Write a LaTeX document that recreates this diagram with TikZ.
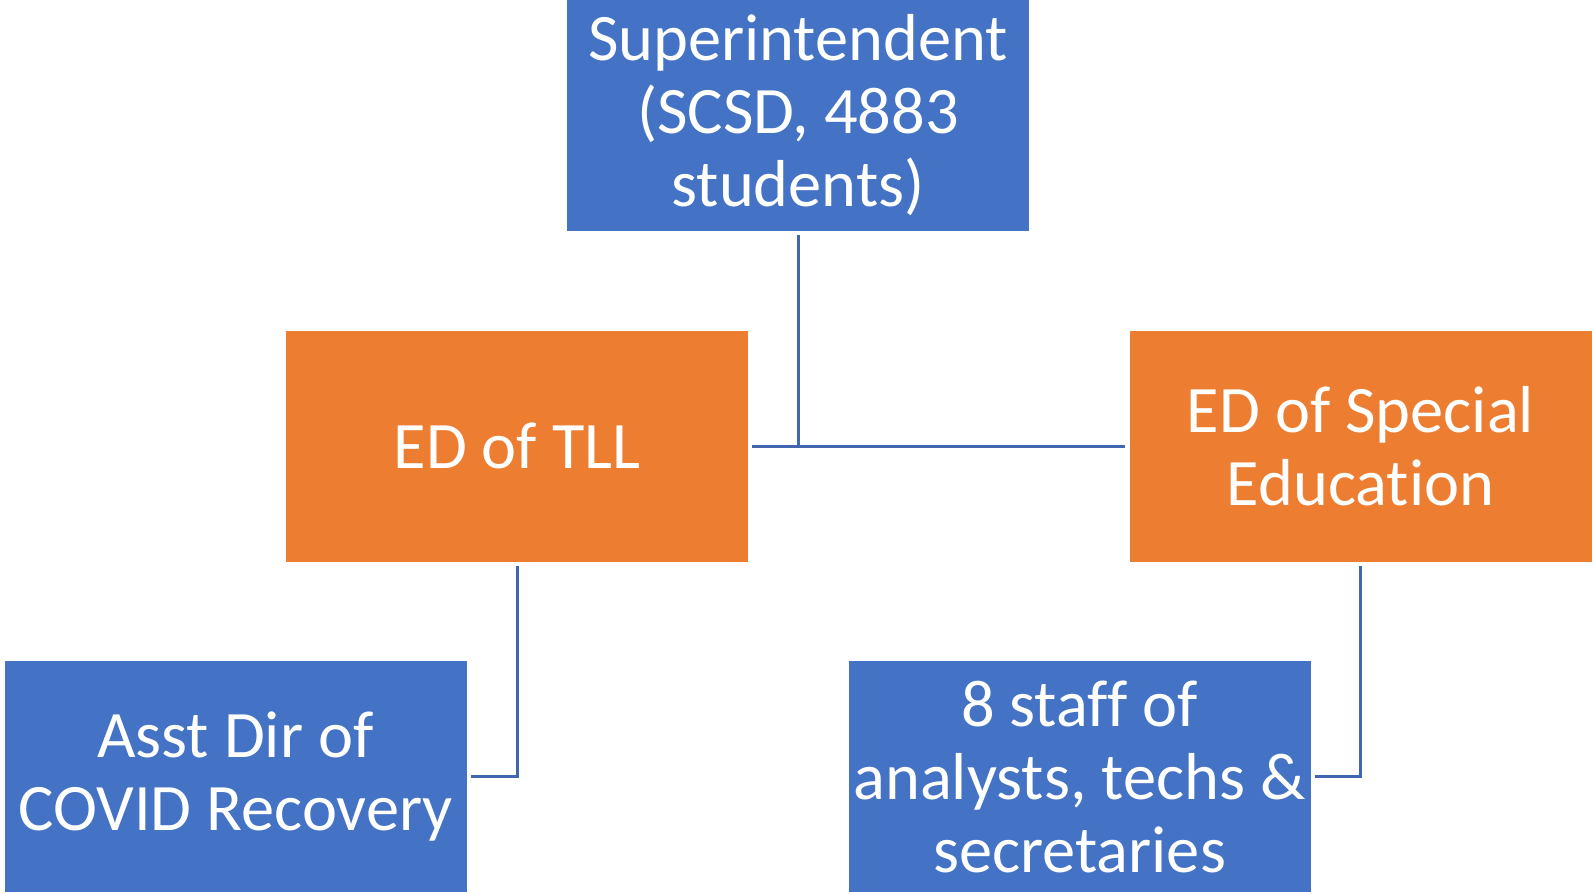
\documentclass[tikz,border=0pt]{standalone}
\usepackage{fontspec}
\setmainfont[RawFeature={-liga,-clig,-calt,-dlig}]{Carlito}
\usetikzlibrary{positioning}
\definecolor{offBlue}{HTML}{4472C4}
\definecolor{offOrange}{HTML}{ED7D31}
\definecolor{linkBlue}{HTML}{4066B0}
\tikzset{
  orgbox/.style={draw=none, align=center, minimum width=231pt, minimum height=115.5pt,
    inner sep=0pt, text=white, font=\fontsize{33.2}{36.5}\selectfont},
  headbox/.style={orgbox, fill=offBlue},
  directorbox/.style={orgbox, fill=offOrange},
  staffbox/.style={orgbox, fill=offBlue},
  link/.style={draw=linkBlue, line width=1.5pt, shorten <=2pt, shorten >=2pt}
}
\begin{document}
\begin{tikzpicture}[x=0.5pt, y=-0.5pt]
  \useasboundingbox[fill=white] (0,0) rectangle (1593,893);

  \node[headbox] (sup) at (798,115.5) {Superintendent\\(SCSD, 4883\\students)};

  \node[directorbox] (tll) at (517,446) {ED of TLL};
  \node[directorbox] (sped) at (1360.5,446) {ED of Special\\Education};

  \node[staffbox] (asst) at (235.5,776.5) {Asst Dir of\\COVID Recovery};
  \node[staffbox] (staff) at (1079.5,776.5) {8 staff of\\analysts, techs \&\\secretaries};

  \draw[link] (tll.east) -- (sped.west);
  \draw[link, shorten >=0pt] (sup.south) -- (sup.south |- tll.east);
  \draw[link] (tll.south) |- (asst.east);
  \draw[link] (sped.south) |- (staff.east);
\end{tikzpicture}
\end{document}
